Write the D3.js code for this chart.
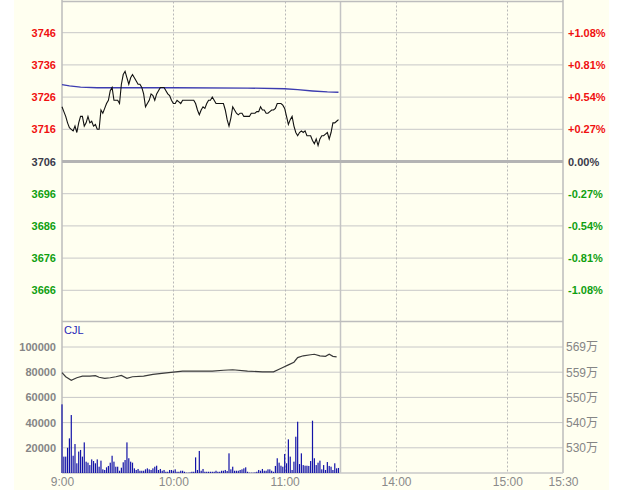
<!DOCTYPE html>
<html>
<head>
<meta charset="utf-8">
<script src="https://cdn.jsdelivr.net/npm/d3@7"></script>
<style>
  html, body { margin: 0; padding: 0; background: #ffffff; }
  svg { display: block; }
  text { font-family: "Liberation Sans", Arial, "Noto Sans CJK SC", sans-serif; }
</style>
</head>
<body>
<svg id="chart" width="625" height="490"></svg>
<script>
// ---------------- DATA ----------------
const prevClose = 3706;
const priceTicks = [3746, 3736, 3726, 3716, 3706, 3696, 3686, 3676, 3666];
const volumeTicks = [100000, 80000, 60000, 40000, 20000];
const oiTickLabels = ["569万", "559万", "550万", "540万", "530万"];
const timeTickMinutes = [0, 60, 120, 180, 240, 270];
const timeTickLabels = ["9:00", "10:00", "11:00", "14:00", "15:00", "15:30"];
const sessionBreakMinute = 150;

// price per minute (index = minutes after 9:00)
const priceValues = [
  3723, 3721.5, 3720, 3718, 3716.5, 3716, 3715.5, 3717, 3715, 3718,
  3720, 3720, 3717, 3718, 3720, 3718, 3718.5, 3717, 3717.5, 3716,
  3716, 3722, 3721, 3722.5, 3724, 3725, 3728, 3729, 3725, 3725,
  3725, 3724, 3730, 3733, 3734, 3732, 3730, 3732, 3733, 3732,
  3731, 3730, 3730, 3729, 3727, 3723, 3724, 3725, 3727, 3726.5,
  3725, 3727, 3728, 3729, 3729, 3729, 3728, 3727, 3726.5, 3725,
  3724, 3724, 3725, 3724.5, 3724, 3725, 3725, 3725, 3725, 3725,
  3725, 3725, 3724, 3722, 3720.5, 3722, 3723, 3722.5, 3724, 3725,
  3725, 3726, 3725, 3724, 3724, 3724, 3724, 3724, 3722, 3719,
  3717, 3719.5, 3723, 3722, 3721, 3720.5, 3721, 3721, 3720, 3720,
  3720, 3720, 3721, 3721, 3721, 3721.5, 3721.5, 3723, 3722, 3722,
  3721, 3721, 3721.5, 3722, 3722, 3722.5, 3724, 3724, 3724, 3723.5,
  3722.5, 3720, 3717.5, 3719, 3720, 3717, 3715, 3714, 3715, 3715.5,
  3715, 3715.5, 3714, 3714, 3714, 3712.5, 3711.5, 3713, 3711, 3713,
  3714, 3714, 3714.5, 3715, 3713, 3715, 3718, 3718, 3718.5, 3719
];

// average price line
const avgMinutes = [0, 4, 10, 19, 60, 100, 120, 127, 135, 143, 149];
const avgValues  = [3729.9, 3729.5, 3729.1, 3728.9, 3728.9, 3728.8, 3728.6, 3728.3, 3727.9, 3727.6, 3727.5];

// volume per minute
const volumeValues = [
  54500, 13000, 13000, 20000, 27500, 46000, 13700, 23000, 7700, 17000,
  18300, 13000, 24300, 9000, 8200, 6300, 10800, 9500, 7700, 10800,
  5000, 9800, 2900, 2400, 4500, 5600, 8200, 13700, 9000, 5000,
  5000, 1800, 4200, 8500, 10300, 24300, 11700, 9000, 8200, 3700,
  2400, 3200, 1800, 1800, 1800, 2900, 3700, 2900, 2400, 3700,
  5000, 5800, 2400, 3200, 1800, 2400, 1000, 1000, 2400, 2400,
  1800, 2900, 1000, 1000, 1800, 1800, 1000, 300, 300, 500,
  1000, 1000, 12400, 2400, 17500, 1800, 3200, 1000, 1000, 1000,
  1000, 1000, 1000, 1800, 1000, 1000, 1800, 1800, 2400, 1600,
  15600, 2900, 5000, 1800, 1800, 1800, 2400, 2900, 3700, 4500,
  1000, 300, 300, 300, 500, 1000, 2400, 1800, 3200, 1800,
  1800, 2900, 2900, 1800, 1000, 5600, 11700, 8200, 5800, 5000,
  15100, 7700, 26700, 13000, 2400, 9000, 28800, 40700, 7100, 15600,
  6300, 5800, 5800, 5600, 9500, 41500, 11700, 6300, 8200, 9800,
  2900, 6300, 2400, 8700, 5600, 5000, 2400, 7700, 3700, 4000
];

// open interest line (in 万)
const oiMinutes = [0, 2, 5, 8, 11, 15, 18, 20, 23, 26, 29, 32, 35, 38, 44, 49, 55, 60, 65, 74, 81, 87, 92, 100, 108, 114, 117, 119, 122, 125, 127, 130, 134, 136, 139, 142, 144, 146, 148];
const oiValues  = [559.1, 557.5, 556.1, 557.1, 557.7, 557.7, 557.9, 557.3, 556.9, 557.1, 557.5, 558.0, 556.9, 557.5, 557.7, 558.4, 558.9, 559.3, 559.7, 559.7, 559.7, 560.0, 560.2, 559.7, 559.4, 559.4, 560.4, 561.1, 562.1, 563.1, 564.9, 565.6, 566.0, 566.2, 565.6, 565.4, 566.2, 565.4, 565.2];

// ---------------- CHART ----------------
const svg = d3.select("#chart");
const L = 62, R = 563, TOP = 1.5, MID = 321.5, BOT = 473;

svg.append("rect").attr("x", 14).attr("y", 0).attr("width", 595).attr("height", 490).attr("fill", "#fffff0");

const x = d3.scaleLinear().domain([0, 270]).range([L, R]);
const yP = d3.scaleLinear().domain([3656, 3756]).range([322.5, 0.5]);
const yV = d3.scaleLinear().domain([0, 120000]).range([BOT, 321.8]);
const yO = d3.scaleLinear().domain([520.25, 578.75]).range([BOT, 321.8]);

const gridColor = "#c8c8c8";

// horizontal grid upper
svg.append("g").selectAll("line").data(priceTicks.filter(d => d !== prevClose)).join("line")
  .attr("x1", L).attr("x2", R).attr("y1", d => yP(d)).attr("y2", d => yP(d))
  .attr("stroke", gridColor).attr("stroke-width", 1);
// horizontal grid lower
svg.append("g").selectAll("line").data(volumeTicks).join("line")
  .attr("x1", L).attr("x2", R).attr("y1", d => yV(d)).attr("y2", d => yV(d))
  .attr("stroke", gridColor).attr("stroke-width", 1);

// vertical dotted lines
svg.append("g").selectAll("line").data(timeTickMinutes.filter(d => d > 0 && d < 270)).join("line")
  .attr("x1", d => Math.round(x(d)) + 0.5).attr("x2", d => Math.round(x(d)) + 0.5)
  .attr("y1", TOP).attr("y2", BOT)
  .attr("stroke", "#b8b8b8").attr("stroke-dasharray", "2,2").attr("stroke-width", 1);
// session break solid
svg.append("line").attr("x1", Math.round(x(sessionBreakMinute)) + 0.5).attr("x2", Math.round(x(sessionBreakMinute)) + 0.5)
  .attr("y1", TOP).attr("y2", BOT).attr("stroke", "#c4c4c4").attr("stroke-width", 1.5);

// frame
svg.append("line").attr("x1", L).attr("x2", L).attr("y1", 0).attr("y2", BOT).attr("stroke", "#bdbdbd").attr("stroke-width", 1.5);
svg.append("line").attr("x1", R).attr("x2", R).attr("y1", 0).attr("y2", BOT).attr("stroke", "#bdbdbd").attr("stroke-width", 1.5);
svg.append("line").attr("x1", L).attr("x2", R).attr("y1", TOP).attr("y2", TOP).attr("stroke", "#bdbdbd").attr("stroke-width", 1.5);
svg.append("line").attr("x1", L).attr("x2", R).attr("y1", MID).attr("y2", MID).attr("stroke", "#bdbdbd").attr("stroke-width", 1.5);
svg.append("line").attr("x1", L).attr("x2", R).attr("y1", BOT).attr("y2", BOT).attr("stroke", "#c8c8c8").attr("stroke-width", 1.5);

// prev close line
svg.append("line").attr("x1", L).attr("x2", R).attr("y1", yP(prevClose)).attr("y2", yP(prevClose))
  .attr("stroke", "#b4b4b4").attr("stroke-width", 3);

const colorFor = v => v > prevClose ? "#f01010" : (v < prevClose ? "#10a010" : "#3a3a4a");

// left price axis
const leftAx = svg.append("g").attr("transform", `translate(${L},0)`)
  .call(d3.axisLeft(yP).tickValues(priceTicks).tickSize(0).tickPadding(6).tickFormat(d3.format("d")));
leftAx.select(".domain").remove();
leftAx.selectAll("text").attr("fill", d => colorFor(d)).style("font-size", "11px").style("font-weight", "bold");

// right percent axis
const pct = d => {
  const p = (d - prevClose) / prevClose * 100;
  if (Math.abs(p) < 1e-9) return "0.00%";
  return (p > 0 ? "+" : "-") + Math.abs(p).toFixed(2) + "%";
};
const rightAx = svg.append("g").attr("transform", `translate(${R},0)`)
  .call(d3.axisRight(yP).tickValues(priceTicks).tickSize(0).tickPadding(5).tickFormat(pct));
rightAx.select(".domain").remove();
rightAx.selectAll("text").attr("fill", d => colorFor(d)).style("font-size", "11px").style("font-weight", "bold");

// lower left axis
const volAx = svg.append("g").attr("transform", `translate(${L},0)`)
  .call(d3.axisLeft(yV).tickValues(volumeTicks).tickSize(0).tickPadding(6).tickFormat(d3.format("d")));
volAx.select(".domain").remove();
volAx.selectAll("text").attr("fill", "#858585").style("font-size", "11px").style("font-weight", "bold");

// lower right axis
const oiAx = svg.append("g").attr("transform", `translate(${R},0)`)
  .call(d3.axisRight(yV).tickValues(volumeTicks).tickSize(0).tickPadding(3).tickFormat((d, i) => oiTickLabels[i]));
oiAx.select(".domain").remove();
oiAx.selectAll("text").attr("fill", "#858585").style("font-size", "12px");

// time axis
const timeAx = svg.append("g").attr("transform", `translate(0,${BOT})`)
  .call(d3.axisBottom(x).tickValues(timeTickMinutes).tickSize(0).tickPadding(4).tickFormat((d, i) => timeTickLabels[i]));
timeAx.select(".domain").remove();
timeAx.selectAll("text").attr("fill", "#8a8a8a").style("font-size", "12px");

// CJL label
svg.append("text").attr("x", 64).attr("y", 334).attr("fill", "#2828b8").style("font-size", "11px").text("CJL");

// volume bars
svg.append("g").selectAll("rect").data(volumeValues).join("rect")
  .attr("x", (d, i) => x(i) - 0.6).attr("width", 1.2)
  .attr("y", d => yV(d)).attr("height", d => BOT - yV(d))
  .attr("fill", "#1414a8");

// open interest line
svg.append("path").datum(oiMinutes.map((m, i) => [m, oiValues[i]]))
  .attr("d", d3.line().x(d => x(d[0])).y(d => yO(d[1])))
  .attr("fill", "none").attr("stroke", "#3a3a3a").attr("stroke-width", 1.2);

// average line
svg.append("path").datum(avgMinutes.map((m, i) => [m, avgValues[i]]))
  .attr("d", d3.line().x(d => x(d[0])).y(d => yP(d[1])))
  .attr("fill", "none").attr("stroke", "#3c3cb0").attr("stroke-width", 1.3);

// price line
svg.append("path").datum(priceValues.map((v, i) => [i, v]))
  .attr("d", d3.line().x(d => x(d[0])).y(d => yP(d[1])))
  .attr("fill", "none").attr("stroke", "#111").attr("stroke-width", 1.1);
</script>
</body>
</html>
